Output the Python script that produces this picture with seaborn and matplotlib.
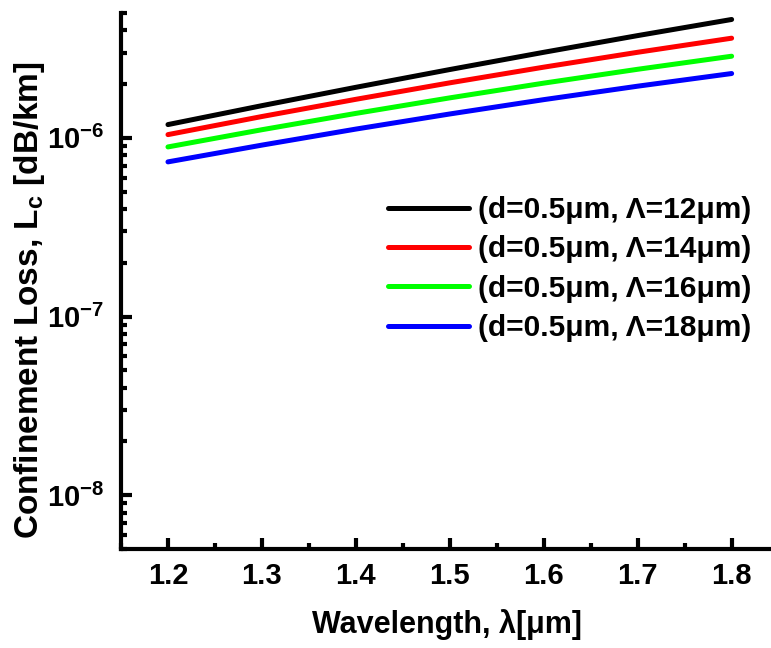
import numpy as np
import pandas as pd
import seaborn as sns
import matplotlib
matplotlib.use("Agg")
import matplotlib.pyplot as plt
from matplotlib.ticker import LogLocator, FuncFormatter, MultipleLocator, NullFormatter

# data
wavelength = [1.2, 1.3, 1.4, 1.5, 1.6, 1.7, 1.8]
loss_12 = [1.187e-6, 1.515e-6, 1.919e-6, 2.413e-6, 3.013e-6, 3.737e-6, 4.60e-6]
loss_14 = [1.043e-6, 1.317e-6, 1.644e-6, 2.033e-6, 2.488e-6, 3.014e-6, 3.614e-6]
loss_16 = [8.90e-7, 1.111e-6, 1.371e-6, 1.675e-6, 2.025e-6, 2.421e-6, 2.865e-6]
loss_18 = [7.34e-7, 9.11e-7, 1.120e-6, 1.361e-6, 1.637e-6, 1.947e-6, 2.292e-6]
labels = ["(d=0.5\u03bcm, \u039b=12\u03bcm)", "(d=0.5\u03bcm, \u039b=14\u03bcm)",
          "(d=0.5\u03bcm, \u039b=16\u03bcm)", "(d=0.5\u03bcm, \u039b=18\u03bcm)"]
colors = ["#000000", "#ff0000", "#00ff00", "#0000ff"]

df = pd.concat([
    pd.DataFrame({"wl": wavelength, "loss": vals, "series": lab})
    for vals, lab in zip([loss_12, loss_14, loss_16, loss_18], labels)
])

sns.set_style("ticks", rc={"text.color": "black", "axes.labelcolor": "black",
                           "xtick.color": "black", "ytick.color": "black",
                           "axes.edgecolor": "black"})
plt.rcParams['font.family'] = ['Liberation Sans', 'DejaVu Sans']
plt.rcParams['font.weight'] = 'bold'
plt.rcParams['mathtext.fontset'] = 'custom'
plt.rcParams['mathtext.bf'] = 'Liberation Sans:bold'
plt.rcParams['mathtext.sf'] = 'Liberation Sans:bold'
plt.rcParams['mathtext.rm'] = 'Liberation Sans:bold'

fig = plt.figure(figsize=(7.71, 6.48), dpi=100)
ax = fig.add_axes([121 / 771, 1 - 549 / 648, 657.6 / 771, 536 / 648])

sns.lineplot(data=df, x="wl", y="loss", hue="series", palette=colors,
             linewidth=3.6, ax=ax, legend=True)

ax.set_yscale("log")
ax.set_ylim(5e-9, 5e-6)
ax.set_xlim(1.15, 1.85)

ax.xaxis.set_major_locator(MultipleLocator(0.1))
ax.xaxis.set_minor_locator(MultipleLocator(0.05))
ax.xaxis.set_major_formatter(FuncFormatter(lambda v, p: f"{v:.1f}" if 1.19 < v < 1.81 else ""))
ax.yaxis.set_major_locator(LogLocator(base=10, numticks=10))
ax.yaxis.set_minor_locator(LogLocator(base=10, subs=np.arange(2, 10), numticks=20))
ax.yaxis.set_major_formatter(FuncFormatter(lambda v, p: r"$\mathbf{10^{%d}}$" % round(np.log10(v))))
ax.yaxis.set_minor_formatter(NullFormatter())

for s in ["top", "right"]:
    ax.spines[s].set_visible(False)
for s in ["left", "bottom"]:
    ax.spines[s].set_linewidth(3)

ax.tick_params(which="major", direction="in", length=8, width=3, pad=9)
ax.tick_params(which="minor", direction="in", length=4, width=3)
ax.tick_params(axis="x", labelsize=21)
ax.tick_params(axis="y", labelsize=21, pad=12)
for t in ax.get_xticklabels() + ax.get_yticklabels():
    t.set_fontweight("bold")

ax.set_xlabel("Wavelength, \u03bb[\u03bcm]", fontsize=22, fontweight="bold")
ax.xaxis.set_label_coords(0.496, -0.112)
ax.set_ylabel("Confinement Loss, $\\mathsf{L_c}$ [dB/km]", fontsize=24, fontweight="bold")
ax.yaxis.set_label_coords(-0.112, 0.465)

leg = ax.legend(loc="upper left", bbox_to_anchor=(388 / 771, 1 - 196 / 648),
                bbox_transform=fig.transFigure, frameon=False, fontsize=21.5,
                handlelength=2.7, handletextpad=0.3, labelspacing=0.38,
                borderpad=0, borderaxespad=0)
for line in leg.get_lines():
    line.set_linewidth(3.6)
for t in leg.get_texts():
    t.set_fontweight("bold")

fig.savefig("out.png", dpi=100)
